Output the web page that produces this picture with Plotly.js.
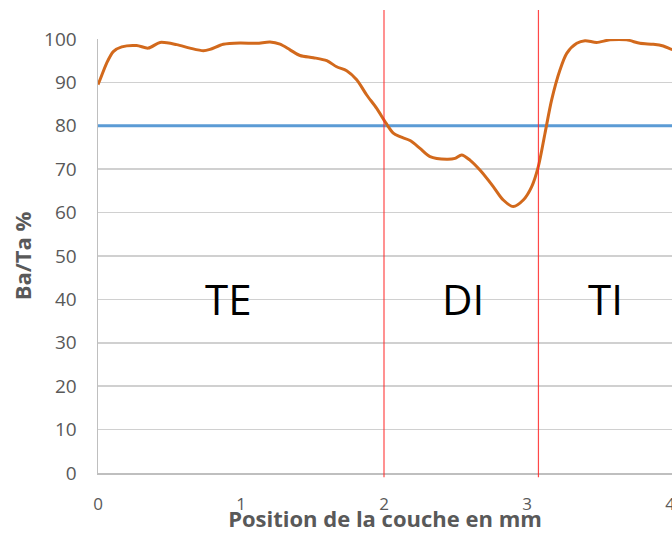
<!DOCTYPE html>
<html>
<head>
<meta charset="utf-8">
<script src="https://cdn.plot.ly/plotly-3.0.1.min.js"></script>
<style>
html,body{margin:0;padding:0;overflow:hidden;background:#fff;}
#chart{width:672px;height:533px;}
</style>
</head>
<body>
<div id="chart"></div>
<script>
// Ba/Ta profile along the layer (mm, %)
var positionMm = [0, 0.014, 0.06, 0.107, 0.166, 0.27, 0.352, 0.434, 0.55, 0.643, 0.737, 0.783, 0.876, 0.993, 1.11, 1.203, 1.273, 1.343, 1.413, 1.506, 1.6, 1.669, 1.739, 1.809, 1.879, 1.949, 2.014, 2.065, 2.112, 2.182, 2.252, 2.322, 2.438, 2.497, 2.543, 2.601, 2.671, 2.764, 2.834, 2.904, 2.974, 3.033, 3.079, 3.126, 3.172, 3.231, 3.278, 3.348, 3.406, 3.487, 3.58, 3.697, 3.79, 3.883, 3.953, 4.012, 4.06];
var baTaPct = [89.5, 90.6, 94.4, 97.1, 98.2, 98.5, 97.9, 99.2, 98.7, 97.9, 97.3, 97.6, 98.8, 99.1, 99.0, 99.3, 98.8, 97.5, 96.2, 95.7, 95.0, 93.6, 92.7, 90.6, 87.1, 84.0, 80.6, 78.3, 77.5, 76.6, 74.8, 72.9, 72.3, 72.5, 73.3, 72.1, 69.8, 66.0, 62.9, 61.4, 62.9, 66.0, 70.6, 78.3, 85.9, 92.9, 96.7, 99.0, 99.6, 99.2, 99.8, 99.8, 99.0, 98.8, 98.4, 97.6, 97.2];
var thresholdPct = 80;
var thresholdX = [0, 4.3];
var zoneBoundaries = [2, 3.08];
var zoneLabels = ['TE', 'DI', 'TI'];
var zoneLabelX = [0.91, 2.55, 3.55];
var zoneLabelY = 40.3;
var xTicks = [0, 1, 2, 3, 4];
var yTicks = [0, 10, 20, 30, 40, 50, 60, 70, 80, 90, 100];

var traces = [
  {x: thresholdX, y: thresholdX.map(function(){return thresholdPct;}), type: 'scatter', mode: 'lines',
   line: {color: '#5B9BD5', width: 3}, hoverinfo: 'skip', showlegend: false},
  {x: positionMm, y: baTaPct, type: 'scatter', mode: 'lines',
   line: {color: '#D2691C', width: 3, shape: 'spline', smoothing: 0.8}, showlegend: false}
];

var shapes = zoneBoundaries.map(function(b){
  return {type: 'line', xref: 'x', yref: 'paper', x0: b, x1: b, y0: -0.01, y1: 1.067,
          line: {color: 'rgba(255,40,40,0.85)', width: 1.2}, layer: 'above'};
});

var annotations = zoneLabels.map(function(t, i){
  return {text: t, x: zoneLabelX[i], y: zoneLabelY, xref: 'x', yref: 'y', showarrow: false,
          font: {family: 'Open Sans, sans-serif', size: 42, color: '#000'}};
});

var layout = {
  width: 672, height: 533,
  margin: {l: 98, r: 0, t: 39, b: 60},
  paper_bgcolor: '#fff', plot_bgcolor: '#fff',
  font: {family: 'Open Sans, sans-serif', color: '#595959', size: 18},
  xaxis: {
    range: [0, 4.014], tickvals: xTicks, ticktext: xTicks.map(String),
    showgrid: false, zeroline: false,
    showline: true, linecolor: '#BFBFBF', linewidth: 1.5,
    ticks: 'outside', ticklen: 15, tickcolor: 'rgba(0,0,0,0)',
    ticklabeloverflow: 'allow',
    tickfont: {size: 17, color: '#595959'},
    title: {text: 'Position de la couche en mm', font: {size: 22, color: '#595959', family: 'Open Sans, sans-serif', weight: 'bold'}, standoff: 3}
  },
  yaxis: {
    range: [0, 100], tickvals: yTicks, ticktext: yTicks.map(String),
    showgrid: true, gridcolor: '#D0D0D0', gridwidth: 1.5, zeroline: false,
    showline: true, linecolor: '#BFBFBF', linewidth: 1.5,
    ticks: 'outside', ticklen: 16, tickcolor: 'rgba(0,0,0,0)',
    tickfont: {size: 19, color: '#595959'},
    title: {text: 'Ba/Ta %', font: {size: 22, color: '#595959', family: 'Open Sans, sans-serif', weight: 'bold'}, standoff: 6}
  },
  shapes: shapes,
  annotations: annotations,
  showlegend: false
};

Plotly.newPlot('chart', traces, layout, {displayModeBar: false, staticPlot: true});
</script>
</body>
</html>
